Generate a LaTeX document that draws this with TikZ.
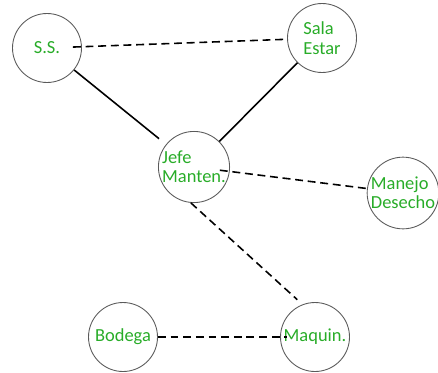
\documentclass[tikz,border=0pt]{standalone}
\usepackage{fontspec}
\setmainfont{Carlito}
\definecolor{labelgreen}{RGB}{40,172,40}
\definecolor{rimgray}{RGB}{90,90,90}
\begin{document}
\begin{tikzpicture}[x=0.02cm,y=-0.02cm]

        \useasboundingbox (0,0) rectangle (438,372);

        \begin{scope}[every node/.style={circle,draw=rimgray,line width=0.5pt,
            minimum size=1.38cm,inner sep=0pt,align=left,text=labelgreen,
            font=\fontsize{10.5}{11}\selectfont}]
          \node (ss)     at (47,48)   {S.S.};
          \node (sala)   at (322,38)  {Sala\\Estar};
          \node (jefe)   at (194,167) {Jefe\\Manten.};
          \node (manejo) at (403,193) {Manejo\\Desecho};
          \node (bodega) at (123,337) {Bodega};
          \node (maquin) at (315,337) {Maquin.};
        \end{scope}

        \begin{scope}[line width=0.9pt]

          \begin{scope}[every edge/.style={draw,dash pattern=on 4.5pt off 2.7pt}]
            \path (ss)        edge[shorten <=-0.18cm] (sala);
            \path (jefe)      edge[shorten <=-0.2cm]  (manejo);
            \path (jefe.-95)  edge[shorten >=0.14cm]  (maquin.111);
            \path (bodega)    edge[shorten >=-0.14cm] (maquin);
          \end{scope}

          \begin{scope}[every edge/.style={draw}]
            \path (ss)   edge[shorten >=0.18cm] (jefe);
            \path (sala) edge (jefe);
          \end{scope}
        \end{scope}

      \end{tikzpicture}
\end{document}
